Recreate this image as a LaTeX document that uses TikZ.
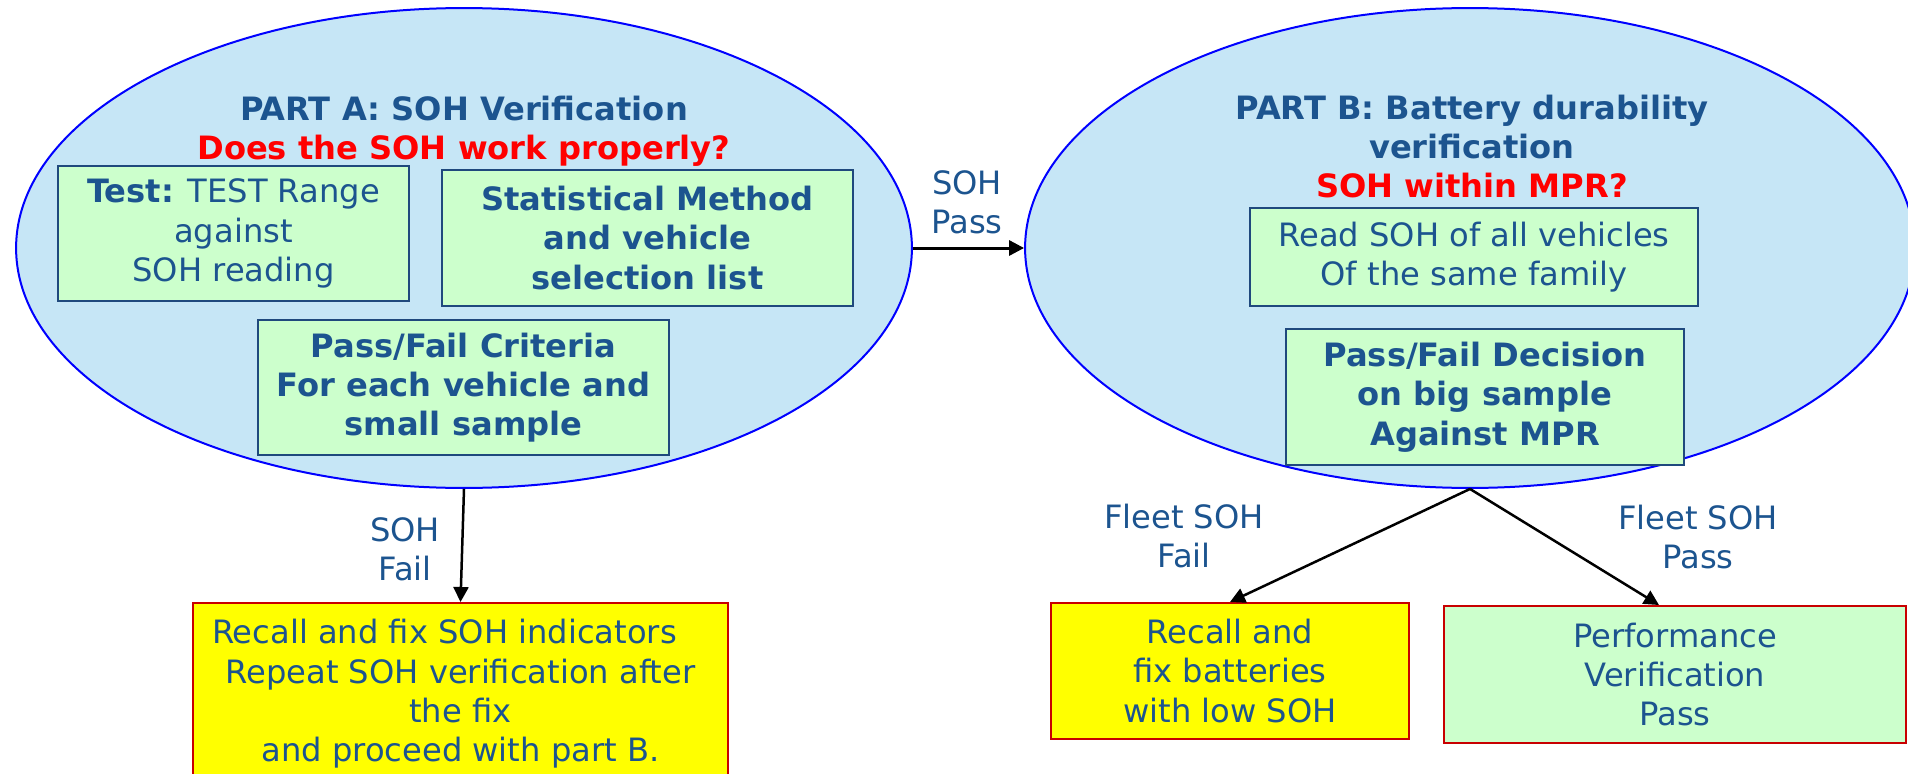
\documentclass[tikz,border=0pt]{standalone}
\usepackage{fontspec}
\setmainfont{DejaVu Sans}
\usetikzlibrary{arrows.meta}
\usetikzlibrary{positioning}
\usetikzlibrary{shapes.geometric}

\definecolor{ellfill}{RGB}{198,230,246}
\definecolor{ellline}{RGB}{0,0,255}
\definecolor{txtblue}{RGB}{28,84,143}
\definecolor{boxline}{RGB}{31,73,125}
\definecolor{boxfill}{RGB}{204,255,204}
\definecolor{recallfill}{RGB}{255,255,0}
\definecolor{recallline}{RGB}{200,0,0}
\definecolor{askred}{RGB}{255,0,0}

\begin{document}
\begin{tikzpicture}[
x=0.02cm, y=-0.02cm,
>={Triangle[length=0.3cm,width=0.3cm]},
every node/.style={font=\fontsize{18.3}{22.4}\selectfont, text=txtblue},
boldtext/.style={font=\fontsize{18.3}{22.4}\selectfont\bfseries},
partnode/.style={ellipse, draw=ellline, fill=ellfill, line width=0.04cm, inner sep=0pt},
titlenode/.style={boldtext, align=center, inner sep=0pt},
stepnode/.style={rectangle, draw=boxline, fill=boxfill, line width=0.04cm, align=center, inner sep=0pt},
recallnode/.style={stepnode, draw=recallline, fill=recallfill},
passnode/.style={stepnode, draw=recallline},
flowlabel/.style={align=center, inner sep=0pt},
]
\useasboundingbox (0,0) rectangle (1908,774);

% the two parts
\node[partnode, minimum width=17.92cm, minimum height=9.6cm](partA) at (464,248){};
\node[partnode, minimum width=17.8cm, minimum height=9.6cm](partB) at (1470,248){};
\node[titlenode](titleA) at (464,131){PART A: SOH Verification\\\textcolor{askred}{Does the SOH work properly?}};
\node[titlenode](titleB) at (1472,146.5){PART B: Battery durability\\verification\\\textcolor{askred}{SOH within MPR?}};

% boxes of part A
\node[stepnode, minimum width=7.02cm, minimum height=2.7cm](test) at (233.5,233.5){\textbf{Test:} TEST Range\\against\\SOH reading};
\node[stepnode, boldtext, minimum width=8.22cm, minimum height=2.72cm](method) at (647.5,238){Statistical Method\\and vehicle\\selection list};
\node[stepnode, boldtext, minimum width=8.22cm, minimum height=2.7cm](criteria) at (463.5,387.5){Pass/Fail Criteria\\For each vehicle and\\small sample};

% boxes of part B
\node[stepnode, minimum width=8.96cm, minimum height=1.96cm](readsoh) at (1474,257){Read SOH of all vehicles\\Of the same family};
\node[stepnode, boldtext, minimum width=7.96cm, minimum height=2.72cm](decision) at (1485,397){Pass/Fail Decision\\on big sample\\Against MPR};

% outcomes
\node[recallnode, minimum width=10.7cm, minimum height=3.64cm](fixsoh) at (460.5,694){Recall and fix SOH indicators\hspace*{1em}\\Repeat SOH verification after\\the fix\\and proceed with part B.};
\node[recallnode, minimum width=7.16cm, minimum height=2.72cm](fixbatt) at (1230,671){Recall and\\fix batteries\\with low SOH};
\node[passnode, minimum width=9.24cm, minimum height=2.74cm](perf) at (1675,674.5){Performance\\Verification\\Pass};

% connectors
\draw[->, line width=0.06cm] (partA.east) -- (partB.west);
\draw[->, line width=0.05cm] (partA.south) -- (fixsoh.north);
\draw[->, line width=0.05cm] (partB.south) -- (fixbatt.north);
\draw[->, line width=0.05cm] (partB.south) -- ([xshift=-0.32cm]perf.north);
\node[flowlabel](lblpassA) at (967,202){SOH\\Pass};
\node[flowlabel](lblfailA) at (405,549.5){SOH\\Fail};
\node[flowlabel](lblfailB) at (1184,536){Fleet SOH\\Fail};
\node[flowlabel](lblpassB) at (1698,537){Fleet SOH\\Pass};
\end{tikzpicture}
\end{document}
